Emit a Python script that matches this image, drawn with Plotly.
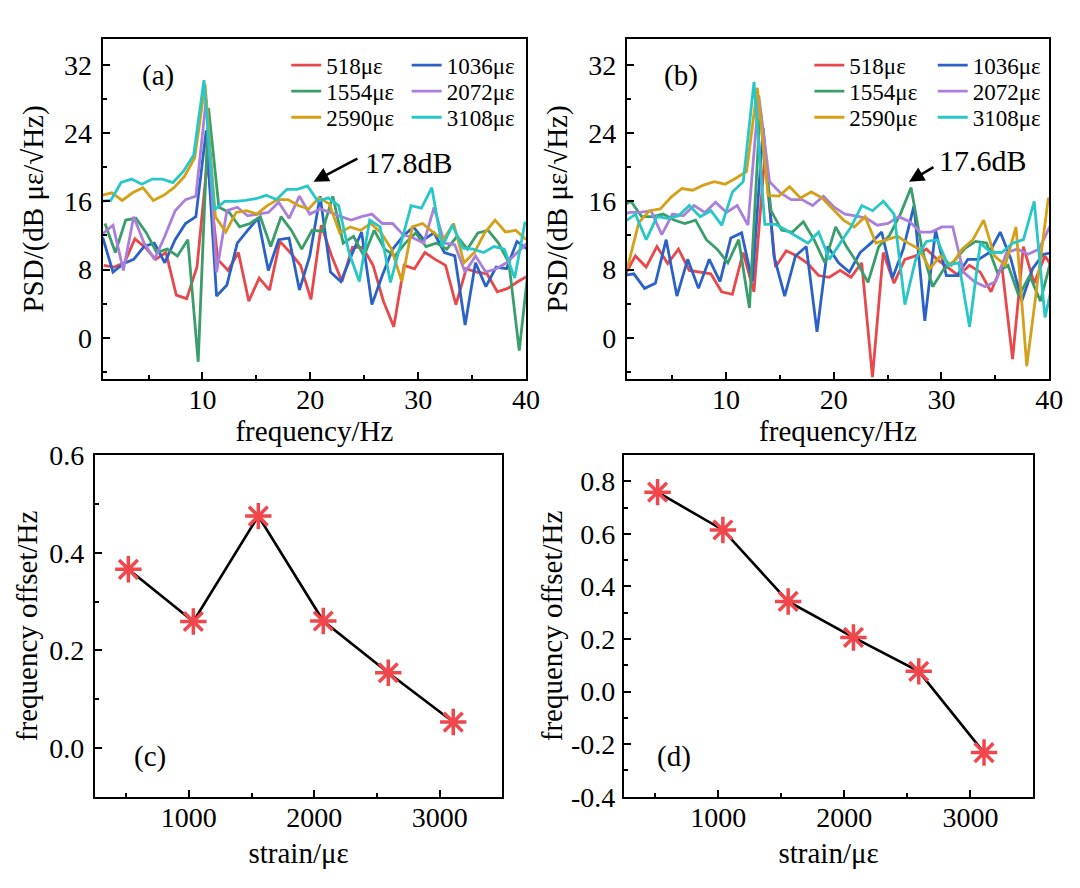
import plotly.graph_objects as go

FONT = "Liberation Serif, Times New Roman, serif"

# ---------------- data ----------------
LABELS = ["518με", "1036με", "1554με", "2072με", "2590με", "3108με"]
COLORS = ["#E8474C", "#2A62C8", "#3A9E6A", "#A97FD9", "#D4A017", "#27C7C7"]
STRAIN = [518, 1036, 1554, 2072, 2590, 3108]

# frequency offsets (panels c and d)
OFFSET_C = [0.366, 0.259, 0.475, 0.260, 0.154, 0.053]
OFFSET_D = [0.759, 0.615, 0.343, 0.206, 0.077, -0.232]

# base frequency grids (Hz) of panels a and b
FREQ_A = [0.49, 1.45, 2.41, 3.37, 4.33, 5.29, 6.25, 7.21, 8.17, 9.13, 10.09, 11.05,
          12.01, 12.97, 13.93, 14.89, 15.85, 16.81, 17.77, 18.73, 19.69, 20.65, 21.61,
          22.57, 23.53, 24.49, 25.45, 26.41, 27.37, 28.33, 29.29, 30.25, 31.21, 32.17,
          33.13, 34.09, 35.05, 36.01, 36.97, 37.93, 38.89, 39.85]
FREQ_B = [-0.16, 0.84, 1.84, 2.84, 3.84, 4.84, 5.84, 6.84, 7.84, 8.84, 9.84, 10.84,
          11.84, 12.84, 13.84, 14.84, 15.84, 16.84, 17.84, 18.84, 19.84, 20.84, 21.84,
          22.84, 23.84, 24.84, 25.84, 26.84, 27.84, 28.84, 29.84, 30.84, 31.84, 32.84,
          33.84, 34.84, 35.84, 36.84, 37.84, 38.84, 39.84, 40.84]

# PSD (dB) panel a
PSD_A_518 = [8.5, 8.3, 8.8, 11.6, 10.6, 9.2, 10.0, 5.0, 4.6, 8.3, 20.8, 9.2, 7.9, 10.0,
             4.3, 7.0, 5.6, 11.3, 10.0, 8.5, 4.5, 13.2, 9.6, 6.6, 10.6, 10.6, 8.5, 4.3,
             1.3, 8.5, 8.1, 10.0, 9.2, 8.5, 3.9, 8.1, 7.7, 7.5, 5.4, 5.8, 6.6, 7.3]
PSD_A_1036 = [11.8, 7.7, 8.7, 9.2, 10.7, 11.1, 8.8, 11.5, 13.4, 14.2, 24.3, 4.9, 6.2, 11.1,
              12.6, 14.0, 7.9, 11.5, 11.7, 5.6, 9.6, 16.6, 7.7, 6.6, 9.6, 12.4, 3.9, 7.3,
              10.4, 11.9, 13.0, 11.5, 12.3, 10.0, 9.6, 1.5, 8.8, 6.0, 8.3, 8.1, 11.3, 10.4]
PSD_A_1554 = [13.4, 10.0, 13.8, 14.0, 12.3, 10.0, 10.4, 9.6, 11.5, -2.8, 26.9, 15.3, 14.7,
              13.0, 13.4, 14.2, 10.7, 14.2, 12.6, 10.4, 12.6, 12.5, 16.6, 11.1, 11.9, 9.6,
              12.6, 10.4, 9.6, 11.1, 12.3, 10.7, 11.1, 10.4, 11.9, 10.4, 12.3, 12.6, 11.1,
              8.8, -1.5, 9.5]
PSD_A_2072 = [12.2, 13.2, 7.9, 14.2, 11.1, 9.2, 11.9, 14.9, 16.2, 16.6, 28.0, 7.7, 14.9,
              15.3, 14.3, 14.5, 14.7, 15.9, 14.0, 16.6, 14.5, 15.1, 14.7, 14.2, 13.8, 14.2,
              14.5, 13.4, 13.4, 12.1, 11.7, 11.1, 15.3, 11.1, 10.9, 7.7, 9.6, 7.7, 8.1,
              8.8, 10.0, 11.1]
PSD_A_2590 = [16.7, 17.0, 16.1, 17.0, 17.6, 16.1, 16.7, 17.6, 18.9, 21.1, 29.7, 14.2, 12.4,
              14.7, 14.9, 14.5, 15.5, 16.2, 16.2, 15.5, 15.1, 16.4, 15.7, 12.3, 13.0, 12.6,
              13.4, 12.3, 10.4, 6.6, 13.0, 13.4, 12.4, 11.5, 13.4, 8.8, 10.0, 12.3, 13.8,
              12.4, 12.6, 11.5]
PSD_A_3108 = [16.0, 16.1, 18.2, 18.6, 18.0, 18.6, 18.6, 18.2, 19.5, 21.4, 30.2, 15.0, 16.0,
              16.0, 16.1, 16.3, 16.7, 16.2, 17.4, 17.4, 17.8, 16.0, 16.4, 15.5, 10.0, 6.6,
              13.8, 13.0, 6.5, 11.0, 15.5, 15.2, 17.6, 10.7, 13.2, 10.5, 10.4, 10.0, 10.7,
              10.4, 7.0, 13.6]

# PSD (dB) panel b
PSD_B_518 = [7.3, 9.6, 8.3, 10.7, 8.7, 10.4, 7.9, 7.7, 7.5, 5.4, 5.1, 10.0, 5.4, 21.2,
             8.3, 10.2, 9.6, 8.7, 7.3, 7.1, 7.9, 7.1, 8.8, -4.6, 10.0, 6.4, 9.2, 9.6, 10.4,
             9.2, 8.3, 7.3, 8.5, 7.7, 5.4, 8.5, -2.5, 10.7, 6.4, 9.6, 7.7, 8.0]
PSD_B_1036 = [7.3, 7.5, 5.8, 6.4, 11.5, 4.9, 9.2, 5.8, 9.2, 6.6, 11.7, 12.3, 6.6, 24.6,
              9.6, 4.9, 9.6, 10.7, 0.7, 10.7, 8.8, 7.7, 10.0, 11.1, 12.4, 7.0, 10.4, 15.5,
              2.0, 12.6, 7.3, 7.3, 9.2, 9.2, 10.0, 12.4, 9.2, 4.3, 8.1, 9.8, 10.0, 10.0]
PSD_B_1554 = [15.3, 16.0, 14.2, 14.2, 14.5, 13.8, 13.4, 13.8, 11.5, 10.4, 8.8, 11.5, 3.5,
              26.9, 14.9, 12.6, 12.4, 13.6, 11.5, 8.8, 13.0, 10.7, 8.8, 6.5, 10.7, 12.0,
              14.5, 17.6, 10.5, 6.0, 8.0, 9.0, 10.5, 11.3, 11.1, 7.7, 8.5, 4.9, 7.3, 4.3,
              9.2, 9.0]
PSD_B_2072 = [14.2, 14.7, 14.7, 14.9, 12.1, 14.5, 14.3, 15.5, 14.7, 15.9, 14.7, 15.5, 13.2,
              28.4, 18.3, 17.0, 16.2, 16.2, 15.5, 16.6, 15.3, 14.5, 14.3, 14.0, 13.2, 13.4,
              14.2, 13.6, 12.4, 12.4, 13.0, 13.0, 7.7, 6.6, 6.0, 6.6, 10.0, 10.4, 9.8, 10.4,
              13.0, 13.0]
PSD_B_2590 = [6.0, 8.5, 13.5, 14.9, 15.1, 16.5, 17.5, 17.3, 17.9, 18.3, 18.0, 18.7, 19.5,
              29.3, 16.7, 16.6, 17.7, 16.4, 17.1, 16.4, 15.1, 13.8, 13.0, 14.2, 11.1, 11.5,
              11.9, 11.1, 10.4, 8.1, 9.6, 8.5, 10.4, 11.5, 13.8, 9.6, 8.5, 13.0, -3.3, 6.6,
              16.4, 14.0]
PSD_B_3108 = [13.0, 13.6, 14.5, 11.5, 14.2, 14.0, 14.3, 15.5, 14.2, 14.9, 13.2, 17.1, 18.3,
              30.0, 13.3, 13.3, 12.6, 11.8, 11.1, 12.4, 9.2, 11.1, 13.0, 15.5, 14.9, 16.0,
              14.5, 3.9, 9.2, 11.3, 11.5, 8.5, 8.8, 1.3, 11.1, 10.0, 10.0, 11.1, 11.5, 16.0,
              2.4, 8.0]

PSD_A = [PSD_A_518, PSD_A_1036, PSD_A_1554, PSD_A_2072, PSD_A_2590, PSD_A_3108]
PSD_B = [PSD_B_518, PSD_B_1036, PSD_B_1554, PSD_B_2072, PSD_B_2590, PSD_B_3108]

# tick labels
PSD_TICKS = [0, 8, 16, 24, 32]
FREQ_TICKS = [10, 20, 30, 40]
STRAIN_TICKS = [1000, 2000, 3000]
C_TICKS = [0.0, 0.2, 0.4, 0.6]
C_TICKTEXT = ["0.0", "0.2", "0.4", "0.6"]
D_TICKS = [-0.4, -0.2, 0.0, 0.2, 0.4, 0.6, 0.8]
D_TICKTEXT = ["-0.4", "-0.2", "0.0", "0.2", "0.4", "0.6", "0.8"]

# ---------------- figure ----------------
W, H = 1080, 888
fx = lambda px: px / W
fy = lambda py: 1 - py / H

fig = go.Figure()

for k in range(6):
    fig.add_trace(go.Scatter(
        x=[f + OFFSET_C[k] for f in FREQ_A], y=PSD_A[k], mode="lines",
        name=LABELS[k], line=dict(color=COLORS[k], width=2.8),
        xaxis="x", yaxis="y", legend="legend" if k == 0 else f"legend{k + 1}"))
for k in range(6):
    fig.add_trace(go.Scatter(
        x=[f + OFFSET_D[k] for f in FREQ_B], y=PSD_B[k], mode="lines",
        name=LABELS[k], line=dict(color=COLORS[k], width=2.8),
        xaxis="x2", yaxis="y2", legend=f"legend{k + 7}"))

marker = dict(symbol="asterisk-open", size=22, color="#F0474C",
              line=dict(color="#F0474C", width=3.5))
fig.add_trace(go.Scatter(x=STRAIN, y=OFFSET_C, mode="lines+markers",
                         line=dict(color="black", width=2.6), marker=marker,
                         showlegend=False, xaxis="x3", yaxis="y3"))
fig.add_trace(go.Scatter(x=STRAIN, y=OFFSET_D, mode="lines+markers",
                         line=dict(color="black", width=2.6), marker=marker,
                         showlegend=False, xaxis="x4", yaxis="y4"))

tickfont = dict(family=FONT, size=28, color="black")
titlefont = dict(family=FONT, size=29, color="black")


def axis(domain, rng, minor_dtick, **kw):
    d = dict(domain=domain, range=rng, showline=True, linecolor="black", linewidth=2,
             mirror=True, ticks="inside", ticklen=7, tickwidth=2, tickcolor="black",
             showgrid=False, zeroline=False, tickfont=tickfont,
             minor=dict(ticks="inside", ticklen=4, tickwidth=2, tickcolor="black",
                        showgrid=False, dtick=minor_dtick))
    d.update(kw)
    return d


fig.update_layout(
    width=W, height=H, margin=dict(l=0, r=0, t=0, b=0),
    paper_bgcolor="white", plot_bgcolor="white",
    font=dict(family=FONT, color="black"),
    xaxis=axis([fx(104), fx(533)], [0.75, 40], 5, anchor="y", tickvals=FREQ_TICKS,
               ticklabelstandoff=-5,
               title=dict(text="frequency/Hz", font=titlefont, standoff=4)),
    yaxis=axis([fy(377), fy(25)], [-4.8, 35], 4, anchor="x", tickvals=PSD_TICKS,
               ticklabelstandoff=3,
               title=dict(text="PSD/(dB με/√Hz)", font=titlefont, standoff=12)),
    xaxis2=axis([fx(635), fx(1063)], [0.8, 40], 5, anchor="y2", tickvals=FREQ_TICKS,
                ticklabelstandoff=-5,
                title=dict(text="frequency/Hz", font=titlefont, standoff=4)),
    yaxis2=axis([fy(377), fy(25)], [-4.8, 35], 4, anchor="x2", tickvals=PSD_TICKS,
                ticklabelstandoff=3,
                title=dict(text="PSD/(dB με/√Hz)", font=titlefont, standoff=12)),
    xaxis3=axis([fx(96), fx(509)], [250, 3500], 500, anchor="y3", tickvals=STRAIN_TICKS,
                ticklabelstandoff=-5,
                title=dict(text="strain/με", font=titlefont, standoff=10)),
    yaxis3=axis([fy(810), fy(456)], [-0.1, 0.6], 0.1, anchor="x3", tickvals=C_TICKS,
                ticktext=C_TICKTEXT, ticklabelstandoff=3,
                title=dict(text="frequency offset/Hz", font=titlefont, standoff=3)),
    xaxis4=axis([fx(632), fx(1047)], [250, 3500], 500, anchor="y4", tickvals=STRAIN_TICKS,
                ticklabelstandoff=-5,
                title=dict(text="strain/με", font=titlefont, standoff=10)),
    yaxis4=axis([fy(810), fy(456)], [-0.4, 0.9], 0.1, anchor="x4", tickvals=D_TICKS,
                ticktext=D_TICKTEXT, ticklabelstandoff=1,
                title=dict(text="frequency offset/Hz", font=titlefont, standoff=0)),
)

# one legend per entry, laid out as two columns x three rows in each PSD panel
legfont = dict(family=FONT, size=23, color="black")
COL_A = [290, 412]
COL_B = [820, 945]
ROWS = [52, 79, 106]
legends = {}
for k in range(6):
    col, row = k % 2, k // 2
    for base, cols in ((1, COL_A), (7, COL_B)):
        key = "legend" if base + k == 1 else f"legend{base + k}"
        legends[key] = dict(x=fx(cols[col]), y=fy(ROWS[row]), xanchor="left",
                            yanchor="middle", bgcolor="rgba(0,0,0,0)", font=legfont,
                            itemwidth=30)
fig.update_layout(**legends)

annfont = dict(family=FONT, size=29, color="black")
anns = [
    dict(text="(a)", x=fx(160), y=fy(63), xref="paper", yref="paper", showarrow=False,
         xanchor="center", yanchor="middle", font=annfont),
    dict(text="(b)", x=fx(690), y=fy(63), xref="paper", yref="paper", showarrow=False,
         xanchor="center", yanchor="middle", font=annfont),
    dict(text="(c)", x=fx(152), y=fy(768), xref="paper", yref="paper", showarrow=False,
         xanchor="center", yanchor="middle", font=annfont),
    dict(text="(d)", x=fx(683), y=fy(768), xref="paper", yref="paper", showarrow=False,
         xanchor="center", yanchor="middle", font=annfont),
    dict(text="", x=20.3, y=18.3, xref="x", yref="y", ax=24.5, ay=21.1, axref="x", ayref="y",
         showarrow=True, arrowhead=2, arrowsize=1.2, arrowwidth=2.5, arrowcolor="black"),
    dict(text="17.8dB", x=24.9, y=20.6, xref="x", yref="y", xanchor="left", yanchor="middle",
         showarrow=False, font=dict(family=FONT, size=30, color="black")),
    dict(text="", x=27.0, y=18.3, xref="x2", yref="y2", ax=29.4, ay=20.1, axref="x2", ayref="y2",
         showarrow=True, arrowhead=2, arrowsize=1.2, arrowwidth=2.5, arrowcolor="black"),
    dict(text="17.6dB", x=29.6, y=20.8, xref="x2", yref="y2", xanchor="left", yanchor="middle",
         showarrow=False, font=dict(family=FONT, size=30, color="black")),
]
fig.update_layout(annotations=anns)

fig.write_html("out.html")
